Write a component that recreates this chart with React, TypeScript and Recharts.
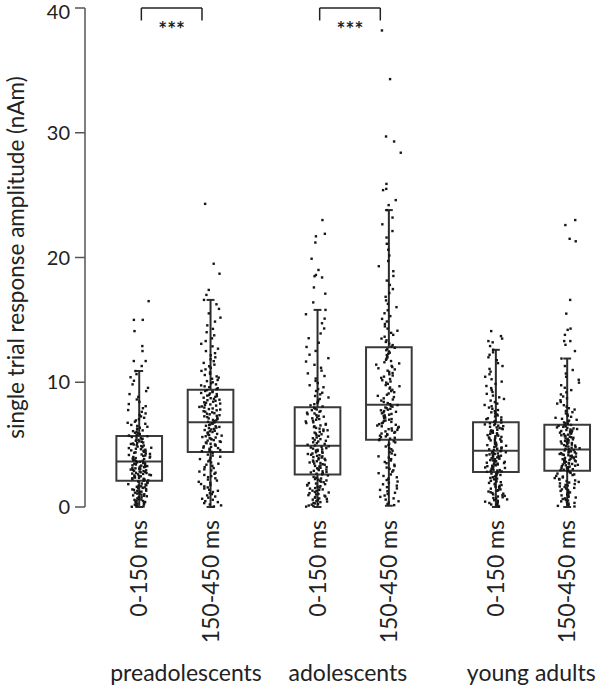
import React from 'react';
import { ComposedChart, Scatter, XAxis, YAxis, ReferenceArea, ReferenceLine, Label } from 'recharts';

const groups = ['preadolescents', 'adolescents', 'young adults'];
const windows = ['0-150 ms', '150-450 ms'];
const boxPositions = [1, 2, 3.5, 4.5, 6, 7];

const q1 = [2.1, 4.4, 2.6, 5.4, 2.8, 2.9];
const medians = [3.65, 6.8, 4.9, 8.2, 4.5, 4.6];
const q3 = [5.7, 9.4, 8.0, 12.8, 6.8, 6.6];
const whiskerLow = [0, 0, 0, 0.1, 0, 0];
const whiskerHigh = [10.9, 16.6, 15.8, 23.8, 12.6, 11.9];

const yTicks = [0, 10, 20, 30, 40];
const sigPairs = [[0, 1], [2, 3]];
const sigLabels = ['***', '***'];

const preEarly = [0.02,0.05,0.11,0.13,0.19,0.22,0.27,0.31,0.34,0.4,0.43,0.48,0.51,0.57,0.6,0.63,0.69,0.72,0.78,0.8,0.86,0.9,0.93,0.99,1.02,1.08,1.1,1.15,1.2,1.23,1.29,1.31,1.37,1.41,1.44,1.5,1.53,1.58,1.62,1.66,1.71,1.74,1.8,1.83,1.88,1.93,1.97,2.04,
  2.11,2.13,2.17,2.2,2.24,2.26,2.3,2.33,2.37,2.39,2.43,2.46,2.49,2.53,2.55,2.59,2.62,2.65,2.68,2.72,2.74,2.78,2.81,2.84,2.88,2.9,2.94,2.97,3.0,3.03,3.06,3.1,3.12,3.16,3.19,3.22,3.25,3.28,3.32,3.34,3.38,3.41,3.44,3.47,3.5,3.54,3.58,3.63,
  3.67,3.71,3.76,3.79,3.84,3.88,3.92,3.96,4.01,4.04,4.09,4.13,4.17,4.21,4.26,4.29,4.34,4.38,4.42,4.46,4.51,4.54,4.59,4.63,4.67,4.72,4.75,4.8,4.84,4.88,4.93,4.96,5.01,5.05,5.09,5.14,5.17,5.22,5.26,5.3,5.35,5.38,5.43,5.47,5.52,5.56,5.61,5.67,
  5.73,5.78,5.84,5.9,5.95,6.02,6.08,6.14,6.21,6.28,6.35,6.43,6.5,6.58,6.67,6.75,6.84,6.94,7.04,7.15,7.26,7.38,7.5,7.63,7.77,7.92,8.08,8.25,8.43,8.62,8.83,9.05,9.29,9.55,9.83,10.12,10.4,10.65,10.9,
  11.3,11.7,11.7,12.5,12.9,14.1,15.0,15.0,16.5];
const preLate = [0.04,0.13,0.2,0.31,0.39,0.47,0.58,0.66,0.75,0.84,0.93,1.03,1.11,1.2,1.3,1.38,1.48,1.57,1.65,1.75,1.84,1.93,2.02,2.12,2.2,2.3,2.39,2.47,2.57,2.66,2.75,2.84,2.93,3.02,3.12,3.2,3.3,3.39,3.47,3.57,3.66,3.75,3.84,3.93,4.03,4.12,4.2,4.33,
  4.42,4.47,4.51,4.57,4.61,4.67,4.72,4.76,4.82,4.86,4.92,4.97,5.01,5.07,5.11,5.17,5.22,5.26,5.32,5.36,5.42,5.47,5.51,5.57,5.61,5.67,5.72,5.76,5.82,5.86,5.92,5.97,6.01,6.07,6.11,6.17,6.22,6.26,6.32,6.36,6.42,6.47,6.51,6.57,6.61,6.67,6.72,6.78,
  6.83,6.89,6.94,6.98,7.05,7.1,7.14,7.21,7.27,7.31,7.36,7.43,7.48,7.52,7.59,7.64,7.68,7.75,7.81,7.85,7.9,7.97,8.02,8.06,8.13,8.18,8.22,8.29,8.35,8.39,8.44,8.51,8.56,8.6,8.67,8.72,8.76,8.83,8.89,8.93,8.98,9.05,9.1,9.14,9.21,9.26,9.3,9.37,
  9.45,9.52,9.6,9.67,9.75,9.83,9.92,10.0,10.09,10.18,10.28,10.37,10.47,10.58,10.68,10.79,10.91,11.03,11.15,11.28,11.41,11.55,11.69,11.84,12.0,12.16,12.33,12.5,12.69,12.88,13.08,13.3,13.52,13.76,14.01,14.28,14.56,14.86,15.18,15.52,15.88,16.25,16.6,
  17.0,17.4,18.7,19.5,24.3];
const adoEarly = [0.03,0.08,0.12,0.19,0.23,0.29,0.33,0.39,0.44,0.48,0.55,0.59,0.65,0.69,0.75,0.8,0.84,0.91,0.95,1.01,1.05,1.11,1.16,1.2,1.27,1.31,1.37,1.41,1.47,1.52,1.56,1.63,1.67,1.73,1.77,1.83,1.88,1.92,1.99,2.03,2.09,2.13,2.19,2.24,2.28,2.35,2.41,2.53,
  2.62,2.67,2.71,2.77,2.81,2.86,2.9,2.96,3.0,3.05,3.1,3.14,3.2,3.24,3.29,3.33,3.39,3.43,3.48,3.53,3.57,3.63,3.67,3.72,3.76,3.82,3.86,3.91,3.96,4.0,4.06,4.1,4.15,4.19,4.25,4.29,4.34,4.39,4.43,4.49,4.53,4.58,4.62,4.68,4.72,4.77,4.82,4.87,
  4.93,4.99,5.06,5.12,5.19,5.25,5.31,5.38,5.44,5.51,5.57,5.64,5.7,5.76,5.83,5.89,5.96,6.02,6.09,6.15,6.21,6.28,6.34,6.41,6.47,6.54,6.6,6.66,6.73,6.79,6.86,6.92,6.99,7.05,7.11,7.18,7.24,7.31,7.37,7.44,7.5,7.56,7.63,7.69,7.76,7.82,7.89,7.96,
  8.06,8.15,8.24,8.34,8.44,8.55,8.66,8.78,8.9,9.03,9.16,9.3,9.45,9.6,9.76,9.93,10.11,10.3,10.5,10.71,10.93,11.16,11.4,11.66,11.93,12.21,12.51,12.83,13.17,13.53,13.91,14.31,14.73,15.1,15.45,15.8,
  16.4,17.1,17.6,18.4,18.5,18.6,19.0,19.9,21.2,21.7,21.9,23.0];
const adoLate = [0.15,0.24,0.37,0.46,0.59,0.69,0.81,0.92,1.04,1.14,1.26,1.37,1.49,1.59,1.71,1.82,1.93,2.04,2.16,2.27,2.38,2.49,2.61,2.71,2.83,2.94,3.06,3.16,3.28,3.39,3.51,3.61,3.73,3.84,3.96,4.06,4.18,4.29,4.4,4.51,4.63,4.73,4.85,4.96,5.08,5.18,5.27,5.36,
  5.43,5.48,5.55,5.6,5.66,5.72,5.77,5.84,5.89,5.95,6.01,6.06,6.13,6.18,6.24,6.3,6.35,6.42,6.47,6.53,6.59,6.64,6.71,6.76,6.82,6.88,6.93,7.0,7.05,7.11,7.17,7.22,7.29,7.34,7.4,7.46,7.51,7.58,7.63,7.69,7.75,7.8,7.87,7.92,7.98,8.04,8.1,8.17,
  8.24,8.33,8.42,8.53,8.62,8.71,8.81,8.91,9.0,9.1,9.2,9.29,9.39,9.49,9.58,9.68,9.77,9.87,9.97,10.06,10.16,10.26,10.35,10.45,10.54,10.64,10.74,10.83,10.93,11.03,11.12,11.22,11.31,11.41,11.51,11.6,11.7,11.8,11.89,11.99,12.08,12.18,12.28,12.37,12.47,12.57,12.66,12.76,
  12.86,12.98,13.1,13.23,13.36,13.5,13.65,13.8,13.96,14.13,14.3,14.48,14.67,14.87,15.08,15.3,15.53,15.77,16.02,16.28,16.56,16.85,17.15,17.47,17.8,18.15,18.52,18.9,19.3,19.72,20.16,20.62,21.1,21.6,22.12,22.66,23.2,23.8,
  24.2,24.6,25.4,25.5,25.9,28.4,29.3,29.7,34.3,38.2];
const yaEarly = [0.03,0.09,0.14,0.2,0.26,0.32,0.37,0.43,0.49,0.55,0.61,0.66,0.72,0.78,0.84,0.89,0.95,1.01,1.07,1.12,1.18,1.24,1.3,1.35,1.41,1.47,1.53,1.59,1.64,1.7,1.76,1.82,1.87,1.93,1.99,2.05,2.1,2.16,2.22,2.28,2.33,2.39,2.45,2.51,2.57,2.62,2.68,2.75,
  2.82,2.85,2.89,2.92,2.96,2.99,3.03,3.06,3.1,3.13,3.17,3.2,3.24,3.27,3.31,3.34,3.38,3.41,3.45,3.48,3.52,3.55,3.59,3.62,3.66,3.69,3.73,3.76,3.8,3.83,3.87,3.9,3.94,3.97,4.01,4.04,4.08,4.11,4.15,4.18,4.22,4.25,4.29,4.32,4.36,4.39,4.43,4.47,
  4.53,4.58,4.62,4.67,4.72,4.77,4.81,4.86,4.91,4.96,5.0,5.05,5.1,5.15,5.19,5.24,5.29,5.34,5.38,5.43,5.48,5.53,5.57,5.62,5.67,5.72,5.76,5.81,5.86,5.91,5.95,6.0,6.05,6.1,6.14,6.19,6.24,6.29,6.33,6.38,6.43,6.48,6.52,6.57,6.62,6.67,6.71,6.77,
  6.84,6.9,6.97,7.04,7.11,7.18,7.26,7.34,7.42,7.5,7.59,7.68,7.77,7.87,7.97,8.07,8.18,8.29,8.41,8.53,8.66,8.79,8.93,9.07,9.22,9.37,9.53,9.7,9.87,10.05,10.24,10.44,10.64,10.85,11.07,11.3,11.53,11.77,12.0,12.2,12.4,12.6,
  12.9,13.2,13.3,13.5,13.7,14.1];
const yaLate = [0.04,0.09,0.16,0.21,0.28,0.33,0.4,0.45,0.52,0.57,0.64,0.69,0.76,0.81,0.88,0.93,1.0,1.05,1.12,1.17,1.24,1.29,1.36,1.41,1.48,1.53,1.6,1.65,1.72,1.77,1.84,1.89,1.96,2.01,2.08,2.13,2.2,2.25,2.32,2.37,2.44,2.49,2.56,2.61,2.68,2.73,2.8,2.86,
  2.92,2.96,2.99,3.03,3.06,3.1,3.13,3.17,3.2,3.24,3.27,3.31,3.34,3.38,3.41,3.45,3.48,3.52,3.55,3.59,3.62,3.66,3.69,3.73,3.76,3.8,3.83,3.87,3.9,3.94,3.97,4.01,4.04,4.08,4.11,4.15,4.18,4.22,4.25,4.29,4.32,4.36,4.39,4.43,4.46,4.5,4.53,4.57,
  4.63,4.67,4.71,4.75,4.8,4.84,4.88,4.92,4.96,5.0,5.05,5.09,5.13,5.17,5.21,5.25,5.3,5.34,5.38,5.42,5.46,5.5,5.55,5.59,5.63,5.67,5.71,5.75,5.8,5.84,5.88,5.92,5.96,6.0,6.05,6.09,6.13,6.17,6.21,6.25,6.3,6.34,6.38,6.42,6.46,6.5,6.54,6.58,
  6.65,6.71,6.78,6.85,6.92,6.99,7.07,7.15,7.23,7.32,7.41,7.5,7.6,7.7,7.81,7.92,8.04,8.16,8.29,8.42,8.56,8.71,8.86,9.02,9.19,9.37,9.56,9.76,9.97,10.2,10.44,10.7,10.98,11.3,11.9,
  12.5,13.0,13.3,13.3,13.8,14.2,14.3,15.5,16.6,21.3,21.5,22.6,23.0];

const trials = [preEarly, preLate, adoEarly, adoLate, yaEarly, yaLate];

// layout only
const BOX_HALF = 0.32;
const CAP_HALF = 0.055;
const JITTER = 0.18;
const GROUP_LABEL_DX = -29;
const INK = '#2b2b2b';
const FONT = 'Lato, "Noto Sans", sans-serif';

// deterministic jitter offset (horizontal placement only)
const hash = (n: number) => {
  const s = Math.sin(n * 12.9898 + 78.233) * 43758.5453;
  return s - Math.floor(s);
};
const jitter = (b: number, i: number) => (hash(b * 1000 + i) + hash(b * 1000 + i + 0.5) - 1) * JITTER;

const points = trials.flatMap((vals, b) =>
  vals.map((v, i) => ({ x: boxPositions[b] + jitter(b, i), y: v }))
);

const Dot = (props: any) => <rect x={props.cx - 1.2} y={props.cy - 1.2} width={2.4} height={2.4} fill="#161616" />;

const WindowTick = (props: any) => {
  const { x, y, index } = props;
  return (
    <g>
      <text x={x} y={y} dy="0.36em" transform={`rotate(-90, ${x}, ${y})`} textAnchor="end"
        fontSize={23} fontFamily={FONT} fill="#222">
        {windows[index % 2]}
      </text>
      {index % 2 === 0 && (
        <text x={x + GROUP_LABEL_DX} y={y + 161} textAnchor="start" fontSize={23} fontFamily={FONT} fill="#222">
          {groups[index / 2]}
        </text>
      )}
    </g>
  );
};

export default function App() {
  return (
    <div style={{ position: 'absolute', left: 0, top: 0, width: 600, height: 688, background: '#fff' }}>
      <ComposedChart width={600} height={688} margin={{ top: 8, right: 0, bottom: 0, left: 0 }} style={{ fontFamily: FONT }}>
        <XAxis xAxisId="box" type="number" dataKey="x" domain={[0.24, 7.46]} ticks={boxPositions}
          allowDataOverflow axisLine={false} tickLine={false} tickSize={0} tickMargin={13} height={181}
          interval={0} tick={<WindowTick />} />
        <YAxis type="number" dataKey="y" domain={[0, 40]} ticks={yTicks} width={85}
          axisLine={{ stroke: '#555', strokeWidth: 1.5 }} tickLine={{ stroke: '#555', strokeWidth: 1.5 }}
          tickSize={10} tickMargin={5} tick={{ fontSize: 20, fill: '#222', fontFamily: FONT }}>
          <Label value="single trial response amplitude (nAm)" angle={-90} position="insideLeft" offset={16}
            style={{ textAnchor: 'middle', fontSize: 22.5, fill: '#222', fontFamily: FONT }} />
        </YAxis>

        {boxPositions.map((p, i) => (
          <ReferenceArea key={`box-${i}`} xAxisId="box" x1={p - BOX_HALF} x2={p + BOX_HALF} y1={q1[i]} y2={q3[i]}
            fill="#fff" fillOpacity={0} stroke="#3a3a3a" strokeWidth={2} strokeOpacity={1} ifOverflow="visible" />
        ))}
        {boxPositions.map((p, i) => (
          <ReferenceLine key={`med-${i}`} xAxisId="box" segment={[{ x: p - BOX_HALF, y: medians[i] }, { x: p + BOX_HALF, y: medians[i] }]}
            stroke="#3a3a3a" strokeWidth={2} />
        ))}

        <Scatter xAxisId="box" data={points} shape={<Dot />} isAnimationActive={false} />

        {boxPositions.map((p, i) => (
          <ReferenceLine key={`wu-${i}`} xAxisId="box" segment={[{ x: p, y: q3[i] }, { x: p, y: whiskerHigh[i] }]} stroke={INK} strokeWidth={2} />
        ))}
        {boxPositions.map((p, i) => (
          <ReferenceLine key={`wl-${i}`} xAxisId="box" segment={[{ x: p, y: whiskerLow[i] }, { x: p, y: q1[i] }]} stroke={INK} strokeWidth={2} />
        ))}
        {boxPositions.map((p, i) => (
          <ReferenceLine key={`cu-${i}`} xAxisId="box" segment={[{ x: p - CAP_HALF, y: whiskerHigh[i] }, { x: p + CAP_HALF, y: whiskerHigh[i] }]} stroke={INK} strokeWidth={2} />
        ))}
        {boxPositions.map((p, i) => (
          <ReferenceLine key={`cl-${i}`} xAxisId="box" segment={[{ x: p - CAP_HALF, y: whiskerLow[i] }, { x: p + CAP_HALF, y: whiskerLow[i] }]} stroke={INK} strokeWidth={2} ifOverflow="visible" />
        ))}

        {sigPairs.map(([a, b], i) => {
          const x1 = boxPositions[a] + 0.03;
          const x2 = boxPositions[b] - 0.12;
          return (
            <React.Fragment key={`sig-${i}`}>
              <ReferenceLine xAxisId="box" segment={[{ x: x1, y: 40 }, { x: x2, y: 40 }]} stroke="#222" strokeWidth={1.5} ifOverflow="visible"
                label={{ value: sigLabels[i], position: 'bottom', offset: 14, fill: '#222', fontSize: 21, fontWeight: 'bold', fontFamily: FONT }} />
              <ReferenceLine xAxisId="box" segment={[{ x: x1, y: 40 }, { x: x1, y: 39 }]} stroke="#222" strokeWidth={1.5} ifOverflow="visible" />
              <ReferenceLine xAxisId="box" segment={[{ x: x2, y: 40 }, { x: x2, y: 39 }]} stroke="#222" strokeWidth={1.5} ifOverflow="visible" />
            </React.Fragment>
          );
        })}
      </ComposedChart>
    </div>
  );
}
